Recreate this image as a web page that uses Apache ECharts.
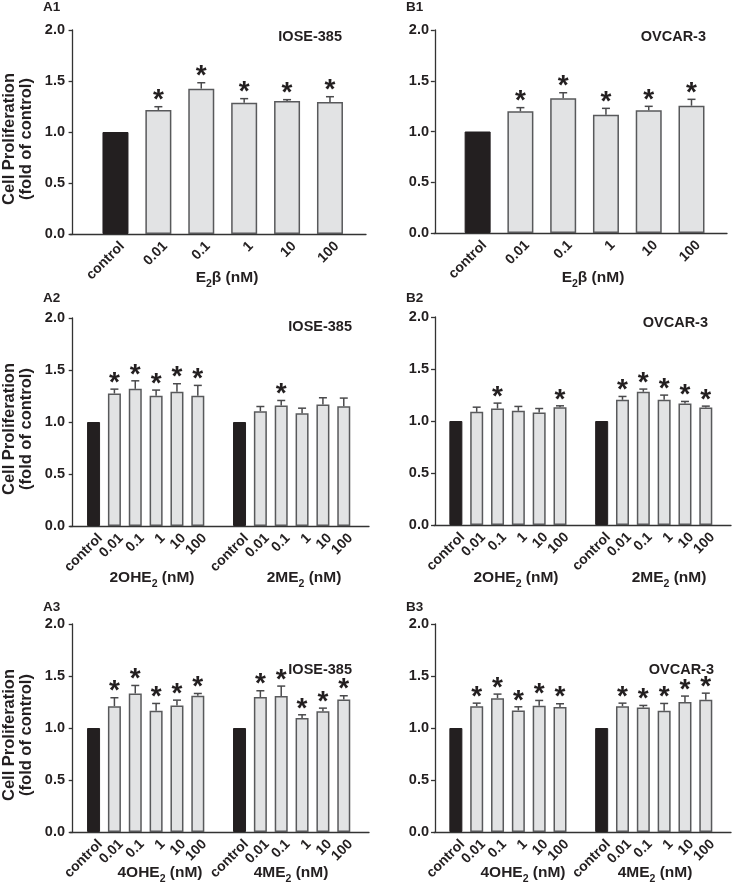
<!DOCTYPE html>
<html><head><meta charset="utf-8">
<script src="https://cdn.jsdelivr.net/npm/echarts@6/dist/echarts.min.js"></script>
<style>html,body{margin:0;padding:0;background:#fff}#c{width:732px;height:892px}</style>
</head><body><div id="c"></div>
<script>
// ---------- data ----------
const doseLabels = ['control', '0.01', '0.1', '1', '10', '100'];

// A1: IOSE-385, E2β
const a1E2bMean = [1.00, 1.216, 1.425, 1.287, 1.304, 1.294];
const a1E2bSem  = [0, 0.032, 0.058, 0.040, 0.013, 0.052];
const a1E2bSig  = [0, 1, 1, 1, 1, 1];
// B1: OVCAR-3, E2β
const b1E2bMean = [1.00, 1.199, 1.327, 1.166, 1.209, 1.254];
const b1E2bSem  = [0, 0.036, 0.055, 0.062, 0.039, 0.063];
const b1E2bSig  = [0, 1, 1, 1, 1, 1];
// A2: IOSE-385, 2OHE2 / 2ME2
const a2OheMean = [1.00, 1.274, 1.319, 1.252, 1.290, 1.252];
const a2OheSem  = [0, 0.042, 0.077, 0.055, 0.078, 0.100];
const a2OheSig  = [0, 1, 1, 1, 1, 1];
const a2MeMean  = [1.00, 1.104, 1.159, 1.085, 1.169, 1.152];
const a2MeSem   = [0, 0.045, 0.048, 0.048, 0.064, 0.078];
const a2MeSig   = [0, 0, 1, 0, 0, 0];
// B2: OVCAR-3, 2OHE2 / 2ME2
const b2OheMean = [1.00, 1.088, 1.120, 1.098, 1.082, 1.133];
const b2OheSem  = [0, 0.045, 0.052, 0.042, 0.038, 0.013];
const b2OheSig  = [0, 0, 1, 0, 0, 1];
const b2MeMean  = [1.00, 1.204, 1.281, 1.204, 1.169, 1.130];
const b2MeSem   = [0, 0.032, 0.026, 0.045, 0.019, 0.013];
const b2MeSig   = [0, 1, 1, 1, 1, 1];
// A3: IOSE-385, 4OHE2 / 4ME2
const a3OheMean = [1.00, 1.210, 1.332, 1.165, 1.217, 1.310];
const a3OheSem  = [0, 0.081, 0.077, 0.071, 0.051, 0.022];
const a3OheSig  = [0, 1, 1, 1, 1, 1];
const a3MeMean  = [1.00, 1.297, 1.307, 1.095, 1.162, 1.274];
const a3MeSem   = [0, 0.061, 0.096, 0.032, 0.029, 0.036];
const a3MeSig   = [0, 1, 1, 1, 1, 1];
// B3: OVCAR-3, 4OHE2 / 4ME2
const b3OheMean = [1.00, 1.210, 1.287, 1.169, 1.214, 1.201];
const b3OheSem  = [0, 0.029, 0.039, 0.035, 0.051, 0.032];
const b3OheSig  = [0, 1, 1, 1, 1, 1];
const b3MeMean  = [1.00, 1.210, 1.197, 1.165, 1.249, 1.271];
const b3MeSem   = [0, 0.029, 0.020, 0.071, 0.058, 0.064];
const b3MeSig   = [0, 1, 1, 1, 1, 1];

// ---------- layout ----------
const TXT = '#231f20';
const FF = '"Liberation Sans", Arial, sans-serif';
const panels = [
  { id: 'A1', cell: 'IOSE-385', groups: [[a1E2bMean, a1E2bSem, a1E2bSig]], names: [['E', '2', 'β (nM)']],
    grid: { left: 70, top: 30, width: 296, height: 204 }, xMin: -0.06, xMax: 6.84, barW: 26, cap: 8, dx: 0.16,
    yName: true, lab: [43, 7], cellPos: [342, 37], namePos: [[227, 277]] },
  { id: 'B1', cell: 'OVCAR-3', groups: [[b1E2bMean, b1E2bSem, b1E2bSig]], names: [['E', '2', 'β (nM)']],
    grid: { left: 434, top: 30, width: 293, height: 203 }, xMin: -0.02, xMax: 6.83, barW: 26, cap: 8, dx: 0.16,
    yName: false, lab: [406, 7], cellPos: [706, 37], namePos: [[593, 277]] },
  { id: 'A2', cell: 'IOSE-385', groups: [[a2OheMean, a2OheSem, a2OheSig], [a2MeMean, a2MeSem, a2MeSig]],
    names: [['2OHE', '2', ' (nM)'], ['2ME', '2', ' (nM)']],
    grid: { left: 70, top: 318, width: 299, height: 208 }, xMin: -0.13, xMax: 14.21, barW: 13, cap: 8, dx: 0.32,
    yName: true, lab: [43, 298], cellPos: [352, 327], namePos: [[152, 577], [304, 577]] },
  { id: 'B2', cell: 'OVCAR-3', groups: [[b2OheMean, b2OheSem, b2OheSig], [b2MeMean, b2MeSem, b2MeSig]],
    names: [['2OHE', '2', ' (nM)'], ['2ME', '2', ' (nM)']],
    grid: { left: 434, top: 317, width: 297, height: 208 }, xMin: -0.05, xMax: 14.21, barW: 13, cap: 8, dx: 0.32,
    yName: false, lab: [406, 298], cellPos: [708, 323], namePos: [[516, 577], [669, 577]] },
  { id: 'A3', cell: 'IOSE-385', groups: [[a3OheMean, a3OheSem, a3OheSig], [a3MeMean, a3MeSem, a3MeSig]],
    names: [['4OHE', '2', ' (nM)'], ['4ME', '2', ' (nM)']],
    grid: { left: 70, top: 624, width: 299, height: 208 }, xMin: -0.13, xMax: 14.21, barW: 13, cap: 8, dx: 0.32,
    yName: true, lab: [43, 607], cellPos: [352, 670], namePos: [[160, 872], [291, 872]] },
  { id: 'B3', cell: 'OVCAR-3', groups: [[b3OheMean, b3OheSem, b3OheSig], [b3MeMean, b3MeSem, b3MeSig]],
    names: [['4OHE', '2', ' (nM)'], ['4ME', '2', ' (nM)']],
    grid: { left: 434, top: 624, width: 297, height: 208 }, xMin: -0.05, xMax: 14.21, barW: 13, cap: 8, dx: 0.32,
    yName: false, lab: [406, 607], cellPos: [714, 670], namePos: [[523, 872], [655, 872]] }
];

const grids = [], xAxes = [], yAxes = [], series = [], graphics = [];

panels.forEach((p, pi) => {
  grids.push(Object.assign({ containLabel: false }, p.grid));
  const positions = [];
  const barData = [], errData = [];
  p.groups.forEach((g, gi) => {
    const [mean, sem, sig] = g;
    doseLabels.forEach((lab, i) => {
      const pos = gi * 7 + i + 1;
      positions.push(pos);
      barData.push({
        value: [pos, mean[i]],
        itemStyle: i === 0
          ? { color: '#231f20', borderColor: '#231f20', borderWidth: 1 }
          : { color: '#e2e3e4', borderColor: '#58595b', borderWidth: 1.5 }
      });
      errData.push([pos, mean[i], sem[i], sig[i]]);
    });
  });
  const dx = p.dx;
  xAxes.push({
    gridIndex: pi, type: 'value', min: p.xMin, max: p.xMax,
    axisLine: { show: true, onZero: false, lineStyle: { color: '#333', width: 1.3 } },
    axisTick: { show: false }, splitLine: { show: false },
    axisLabel: {
      customValues: positions.map(v => v + dx),
      formatter: v => doseLabels[(Math.round(v - dx) - 1) % 7],
      rotate: 45, margin: 10, fontSize: 14, fontWeight: 'bold', color: TXT, fontFamily: FF
    }
  });
  yAxes.push({
    gridIndex: pi, type: 'value', min: 0, max: 2, interval: 0.5,
    axisLine: { show: true, lineStyle: { color: '#333', width: 1.3 } },
    axisTick: { show: true, inside: false, length: 4, lineStyle: { color: '#333', width: 1.3 } },
    splitLine: { show: false },
    axisLabel: { formatter: v => v.toFixed(1), fontSize: 14.5, fontWeight: 'bold', color: TXT, margin: 5, fontFamily: FF },
    name: p.yName ? 'Cell Proliferation\n(fold of control)' : '',
    nameLocation: 'middle', nameGap: 35, nameRotate: 90,
    nameTextStyle: { fontSize: 16.5, fontWeight: 'bold', color: TXT, lineHeight: 17, fontFamily: FF, padding: [0, 14, 0, 0] }
  });
  series.push({
    type: 'bar', xAxisIndex: pi, yAxisIndex: pi, barWidth: p.barW, data: barData, z: 2,
    emphasis: { disabled: true }, silent: true
  });
  const cap = p.cap;
  series.push({
    type: 'custom', xAxisIndex: pi, yAxisIndex: pi, data: errData, z: 3, silent: true,
    encode: { x: 0, y: 1 },
    renderItem: (params, api) => {
      const x = api.value(0), m = api.value(1), s = api.value(2), sig = api.value(3);
      const p0 = api.coord([x, m]);
      const p1 = api.coord([x, m + s]);
      const children = [];
      if (s > 0) {
        const st = { stroke: '#4a4a4c', lineWidth: 1.5 };
        children.push({ type: 'line', shape: { x1: p0[0], y1: p0[1], x2: p1[0], y2: p1[1] }, style: st });
        children.push({ type: 'line', shape: { x1: p1[0] - cap / 2, y1: p1[1], x2: p1[0] + cap / 2, y2: p1[1] }, style: st });
      }
      if (sig) {
        children.push({ type: 'text', style: { text: '*', x: p1[0], y: p1[1] - 6, align: 'center', verticalAlign: 'middle',
          font: 'bold 28px ' + FF, fill: TXT } });
      }
      return { type: 'group', children };
    }
  });

  graphics.push({ type: 'text', left: p.lab[0], top: p.lab[1] - 7,
    style: { text: p.id, font: 'bold 13.5px ' + FF, fill: TXT } });
  graphics.push({ type: 'text', x: p.cellPos[0], y: p.cellPos[1],
    style: { text: p.cell, align: 'right', verticalAlign: 'middle', font: 'bold 14.5px ' + FF, fill: TXT } });
  p.names.forEach((n, ni) => {
    graphics.push({ type: 'text', x: p.namePos[ni][0], y: p.namePos[ni][1],
      style: {
        text: '{a|' + n[0] + '}{s|' + n[1] + '}{a|' + n[2] + '}',
        align: 'center', verticalAlign: 'middle',
        rich: {
          a: { fontSize: 15.5, fontWeight: 'bold', fontFamily: FF, fill: TXT, color: TXT, lineHeight: 18, verticalAlign: 'bottom' },
          s: { fontSize: 10.5, fontWeight: 'bold', fontFamily: FF, fill: TXT, color: TXT, lineHeight: 18, verticalAlign: 'bottom', padding: [0, 0, -4, 0] }
        }
      } });
  });
});

const chart = echarts.init(document.getElementById('c'), null, { renderer: 'canvas' });
chart.setOption({
  animation: false,
  backgroundColor: '#fff',
  grid: grids, xAxis: xAxes, yAxis: yAxes, series: series, graphic: graphics
});
</script></body></html>
